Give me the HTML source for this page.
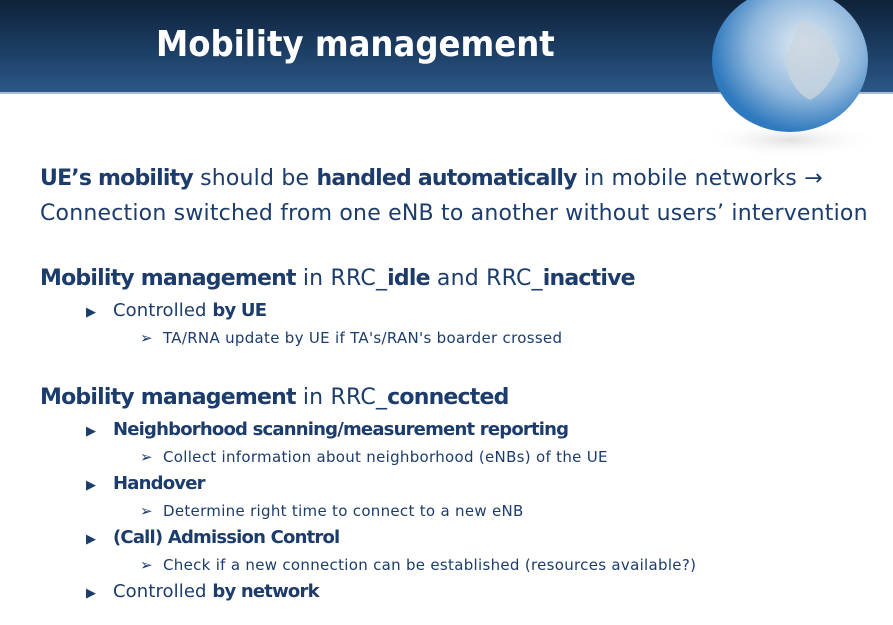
<!DOCTYPE html>
<html><head><meta charset="utf-8"><style>
body{margin:0;width:893px;height:625px;overflow:hidden;background:#fff;font-family:"DejaVu Sans","Liberation Sans",sans-serif;color:#1c3c6c;position:relative}
.hdr{position:absolute;left:0;top:0;width:893px;height:92px;background:linear-gradient(180deg,#0e2239 0%,#1b3b61 50%,#2b5887 100%);border-bottom:2px solid #a9bdd2}
.title{position:absolute;left:156px;top:24px;font-size:36px;color:#fff;font-weight:bold;font-family:"DejaVu Sans Condensed","DejaVu Sans",sans-serif}
.t{position:absolute;white-space:nowrap}
.l1{font-size:22px;letter-spacing:0.2px}
.l2{font-size:18px;letter-spacing:0.1px}
.l3{font-size:15px;letter-spacing:0.3px}
b{font-weight:bold;letter-spacing:-0.8px}
.a{font-size:13px;display:inline-block;width:27px;letter-spacing:0}
.c{display:inline-block;width:23px;letter-spacing:0}
</style></head><body>
<div class="hdr"></div>
<svg style="position:absolute;left:680px;top:0" width="213" height="160">
<defs><radialGradient id="g" cx="0.6" cy="0.4" r="0.6"><stop offset="0" stop-color="#e6eef5"/><stop offset="0.6" stop-color="#8fb7dc"/><stop offset="1" stop-color="#2f79be"/></radialGradient>
<radialGradient id="s" cx="0.5" cy="0.5" r="0.5"><stop offset="0" stop-color="#ccc" stop-opacity="0.6"/><stop offset="1" stop-color="#fff" stop-opacity="0"/></radialGradient></defs>
<ellipse cx="110" cy="140" rx="90" ry="18" fill="url(#s)"/>
<ellipse cx="110" cy="60" rx="78" ry="72" fill="url(#g)"/>
<path d="M120 20 q30 10 40 40 q-10 30 -30 40 q-20 -10 -25 -40z" fill="#c9d4de" opacity="0.8"/>
</svg>
<div class="title">Mobility management</div>
<div class="t l1" style="left:40px;top:166px"><b>UE’s mobility</b> should be <b>handled automatically</b> in mobile networks →</div>
<div class="t l1" style="left:40px;top:201px">Connection switched from one eNB to another without users’ intervention</div>
<div class="t l1" style="left:40px;top:266px"><b>Mobility management</b> in RRC_<b>idle</b> and RRC_<b>inactive</b></div>
<div class="t l2" style="left:86px;top:300px"><span class="a">▶</span>Controlled <b>by UE</b></div>
<div class="t l3" style="left:140px;top:329px"><span class="c">➢</span>TA/RNA update by UE if TA's/RAN's boarder crossed</div>
<div class="t l1" style="left:40px;top:385px"><b>Mobility management</b> in RRC_<b>connected</b></div>
<div class="t l2" style="left:86px;top:419px"><span class="a">▶</span><b>Neighborhood scanning/measurement reporting</b></div>
<div class="t l3" style="left:140px;top:448px"><span class="c">➢</span>Collect information about neighborhood (eNBs) of the UE</div>
<div class="t l2" style="left:86px;top:473px"><span class="a">▶</span><b>Handover</b></div>
<div class="t l3" style="left:140px;top:502px"><span class="c">➢</span>Determine right time to connect to a new eNB</div>
<div class="t l2" style="left:86px;top:527px"><span class="a">▶</span><b>(Call) Admission Control</b></div>
<div class="t l3" style="left:140px;top:556px"><span class="c">➢</span>Check if a new connection can be established (resources available?)</div>
<div class="t l2" style="left:86px;top:581px"><span class="a">▶</span>Controlled <b>by network</b></div>
</body></html>
